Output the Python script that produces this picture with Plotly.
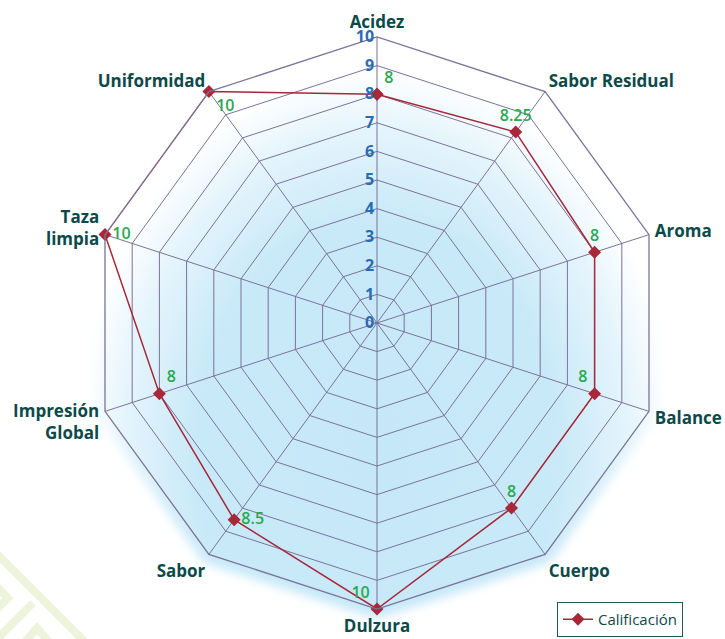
import base64
import math
import plotly.graph_objects as go

# ---- data ----
categories = ["Acidez", "Sabor Residual", "Aroma", "Balance", "Cuerpo",
              "Dulzura", "Sabor", "Impresión<br>Global", "Taza<br>limpia", "Uniformidad"]
scores = [8, 8.25, 8, 8, 8, 10, 8.5, 8, 10, 10]
score_labels = ["8", "8.25", "8", "8", "8", "10", "8.5", "8", "10", "10"]
radial_ticks = [0, 1, 2, 3, 4, 5, 6, 7, 8, 9, 10]
series_name = "Calificación"

# ---- style ----
W, H = 725, 639
ML, MR, MT, MB = 91, 62, 37, 30
PLOT = W - ML - MR  # 572
CX, CY = ML + PLOT / 2, MT + PLOT / 2
R = PLOT / 2
GRID = "#7b7399"
RED = "#a8283a"
GREEN = "#2aa852"
BLUE = "#2b6bb2"
TEAL = "#0c4a4a"
FONT = "Open Sans"
label_pos = ["top right", "top center", "top center", "top left", "top center",
             "top left", "middle right", "top right", "middle right", "bottom right"]

n = len(categories)


def decagon(radius):
    pts = []
    for k in range(n):
        a = math.radians(k * 360 / n)
        pts.append(f"{CX + radius * math.sin(a):.2f},{CY - radius * math.cos(a):.2f}")
    return " ".join(pts)


svg = f"""<svg xmlns='http://www.w3.org/2000/svg' width='{W}' height='{H}' viewBox='0 0 {W} {H}'>
<defs>
<radialGradient id='g' gradientUnits='userSpaceOnUse' cx='0' cy='0' r='1'
 gradientTransform='translate({CX},{CY + 127}) scale(300,380)'>
<stop offset='0' stop-color='#c5e8f8'/>
<stop offset='0.6' stop-color='#c8e9f8'/>
<stop offset='0.84' stop-color='#e4f4fc'/>
<stop offset='1' stop-color='#ffffff'/>
</radialGradient>
<filter id='b' x='-20%' y='-20%' width='140%' height='140%'><feGaussianBlur stdDeviation='5'/></filter>
</defs>
<g stroke='#eef3dc' stroke-width='8' fill='none' stroke-linecap='butt'>
<polyline points='-5,552 86,643'/>
<polyline points='33,603 -4,640'/>
<polyline points='-4,586 8,598 -4,610'/>
<polyline points='24,643 37,628 50,643'/>
</g>
<polygon points='{decagon(R + 10)}' fill='url(#g)' filter='url(#b)'/>
<polygon points='{decagon(R)}' fill='url(#g)'/>
</svg>"""
svg_uri = "data:image/svg+xml;base64," + base64.b64encode(svg.encode("utf-8")).decode("ascii")

theta_closed = categories + [categories[0]]
r_closed = scores + [scores[0]]
text_closed = score_labels + [""]
pos_closed = label_pos + [label_pos[0]]

fig = go.Figure()
fig.add_trace(go.Scatterpolar(
    r=r_closed,
    theta=theta_closed,
    mode="lines+markers+text",
    name=series_name,
    line=dict(color=RED, width=1.5),
    marker=dict(symbol="diamond", size=10, color=RED),
    text=text_closed,
    textposition=pos_closed,
    textfont=dict(color=GREEN, size=16, family=FONT, weight=600),
    cliponaxis=False,
    showlegend=True,
))

fig.update_layout(
    width=W, height=H, autosize=False,
    margin=dict(l=ML, r=MR, t=MT, b=MB, pad=0, autoexpand=False),
    paper_bgcolor="white",
    plot_bgcolor="rgba(0,0,0,0)",
    font=dict(family=FONT, color=TEAL),
    images=[dict(
        source=svg_uri, xref="paper", yref="paper",
        x=-ML / PLOT, y=(PLOT + MT) / PLOT,
        sizex=W / PLOT, sizey=H / PLOT,
        xanchor="left", yanchor="top", sizing="stretch", layer="below",
    )],
    polar=dict(
        domain=dict(x=[0, 1], y=[0, 1]),
        bgcolor="rgba(0,0,0,0)",
        gridshape="linear",
        radialaxis=dict(
            range=[0, 10], tickvals=radial_ticks, ticktext=[str(v) for v in radial_ticks],
            angle=90, tickangle=90, side="counterclockwise",
            showline=False, ticks="", gridcolor=GRID, gridwidth=1.3,
            tickfont=dict(color=BLUE, size=16, family=FONT, weight="bold"),
        ),
        angularaxis=dict(
            rotation=90, direction="clockwise",
            gridcolor=GRID, gridwidth=1.3, linecolor=GRID, linewidth=1.3, showline=True,
            ticks="outside", ticklen=2, tickcolor="rgba(0,0,0,0)",
            tickfont=dict(color=TEAL, size=17, family=FONT, weight="bold"),
        ),
    ),
    legend=dict(
        x=(683 - ML) / PLOT, xanchor="right",
        y=(MT + PLOT - 637) / PLOT, yanchor="bottom",
        bgcolor="white", bordercolor="#1d5a5a", borderwidth=1,
        font=dict(size=15, color=TEAL, family=FONT),
    ),
)

fig.write_html("out.html", config={"displayModeBar": False},
               post_script="document.body.style.margin='0px';")
